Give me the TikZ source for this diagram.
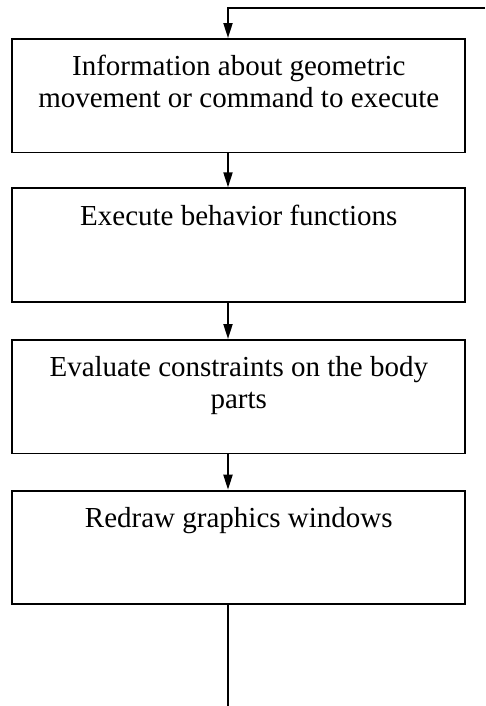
\documentclass[tikz,border=0pt]{standalone}
\usepackage{fontspec}
\setmainfont{Liberation Serif}
\usetikzlibrary{arrows.meta}
\begin{document}
\begin{tikzpicture}[
    stepbox/.style={draw, line width=1.1pt, minimum width=9.06cm, minimum height=2.27cm, inner sep=0pt},
    steptext/.style={anchor=north, inner sep=0pt, align=center, font=\fontsize{16.5}{18.2}\selectfont},
    flow/.style={line width=1.1pt, -{Triangle[length=0.3cm,width=0.18cm]}}
]
    \useasboundingbox (0,0) rectangle (9.7,14.12);
    % the four steps, top to bottom
    \node[stepbox] (info) at (4.776,12.205) {};
    \node[stepbox] (behave) at (4.776,9.219) {};
    \node[stepbox] (constr) at (4.776,6.185) {};
    \node[stepbox] (redraw) at (4.776,3.171) {};
    \node[steptext] (infotxt) at ([yshift=-0.344cm]info.north) {Information about geometric\\movement or command to execute};
    \node[steptext] (behavetxt) at ([yshift=-0.344cm]behave.north) {Execute behavior functions};
    \node[steptext] (constrtxt) at ([yshift=-0.344cm]constr.north) {Evaluate constraints on the body\\parts};
    \node[steptext] (redrawtxt) at ([yshift=-0.344cm]redraw.north) {Redraw graphics windows};
    % connectors run on x = 4.56
    \coordinate (loopin) at (9.7,13.96);
    \coordinate (loopturn) at (4.56,13.96);
    \coordinate (exit) at (4.56,0);
    \draw[flow] (loopin) -- (loopturn) -- (loopturn |- info.north);
    \draw[flow] (info.south -| loopturn) -- (behave.north -| loopturn);
    \draw[flow] (behave.south -| loopturn) -- (constr.north -| loopturn);
    \draw[flow] (constr.south -| loopturn) -- (redraw.north -| loopturn);
    \draw[line width=1.1pt] (redraw.south -| exit) -- (exit);
\end{tikzpicture}
\end{document}
